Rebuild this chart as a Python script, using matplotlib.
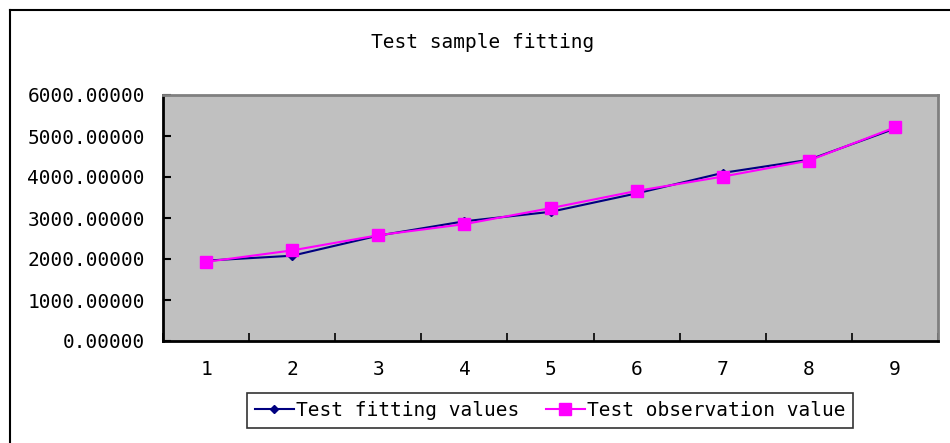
import matplotlib
matplotlib.use("Agg")
import matplotlib.pyplot as plt
from matplotlib.lines import Line2D
from matplotlib.ticker import FixedLocator, FormatStrFormatter

categories = [1, 2, 3, 4, 5, 6, 7, 8, 9]
fitting = [1960, 2080, 2570, 2920, 3150, 3600, 4100, 4420, 5180]
observed = [1930, 2210, 2580, 2850, 3240, 3660, 4010, 4400, 5210]
title = "Test sample fitting"
fit_label = "Test fitting values"
obs_label = "Test observation value"

W, H = 950, 443
fig = plt.figure(figsize=(W / 100, H / 100), dpi=100)
font = "DejaVu Sans Mono"
fs = 14

ax = fig.add_axes([163 / W, 1 - 341 / H, (938 - 163) / W, (341 - 95) / H])
ax.set_facecolor("#C0C0C0")

ax.plot(categories, fitting, color="#000080", lw=1.5, marker="D", ms=4,
        label=fit_label, zorder=3)
ax.plot(categories, observed, color="#FF00FF", lw=1.5, marker="s", ms=9,
        label=obs_label, zorder=4)

ax.set_xlim(0.5, 9.5)
ax.set_ylim(0, 6000)
ax.set_yticks(range(0, 6001, 1000))
ax.yaxis.set_major_formatter(FormatStrFormatter("%.5f"))
ax.set_xticks(categories)
ax.set_xticklabels([str(c) for c in categories])
ax.xaxis.set_minor_locator(FixedLocator([c + 0.5 for c in [0] + categories]))

ax.tick_params(axis="x", which="major", length=0, pad=14)
ax.tick_params(axis="x", which="minor", direction="in", length=6, width=1.2,
               color="black")
ax.tick_params(axis="y", which="major", direction="in", length=6, width=1.5,
               pad=13)
for lab in ax.get_xticklabels() + ax.get_yticklabels():
    lab.set_fontfamily(font)
    lab.set_fontsize(fs)

for s in ["left", "bottom"]:
    ax.spines[s].set_color("black")
    ax.spines[s].set_linewidth(2)
for s in ["top", "right"]:
    ax.spines[s].set_color("#808080")
    ax.spines[s].set_linewidth(2)

fig.text(483 / W, 1 - 42 / H, title, ha="center", va="center",
         fontfamily=font, fontsize=fs)

leg = fig.legend(loc="center", bbox_to_anchor=(550 / W, 1 - 410.5 / H),
                 ncol=2, frameon=True, fancybox=False, shadow=False,
                 prop={"family": font, "size": fs},
                 handlelength=2.0, handletextpad=0.1, columnspacing=1.4,
                 borderpad=0.4, borderaxespad=0)
leg.get_frame().set_edgecolor("black")
leg.get_frame().set_linewidth(1.2)

# figure border (left and top)
fig.add_artist(Line2D([9.5 / W, 9.5 / W], [0, 1 - 10 / H], color="black",
                      lw=1.5, transform=fig.transFigure))
fig.add_artist(Line2D([9.5 / W, 1], [1 - 10 / H, 1 - 10 / H], color="black",
                      lw=1.5, transform=fig.transFigure))

fig.savefig("out.png", dpi=100, facecolor="white")
